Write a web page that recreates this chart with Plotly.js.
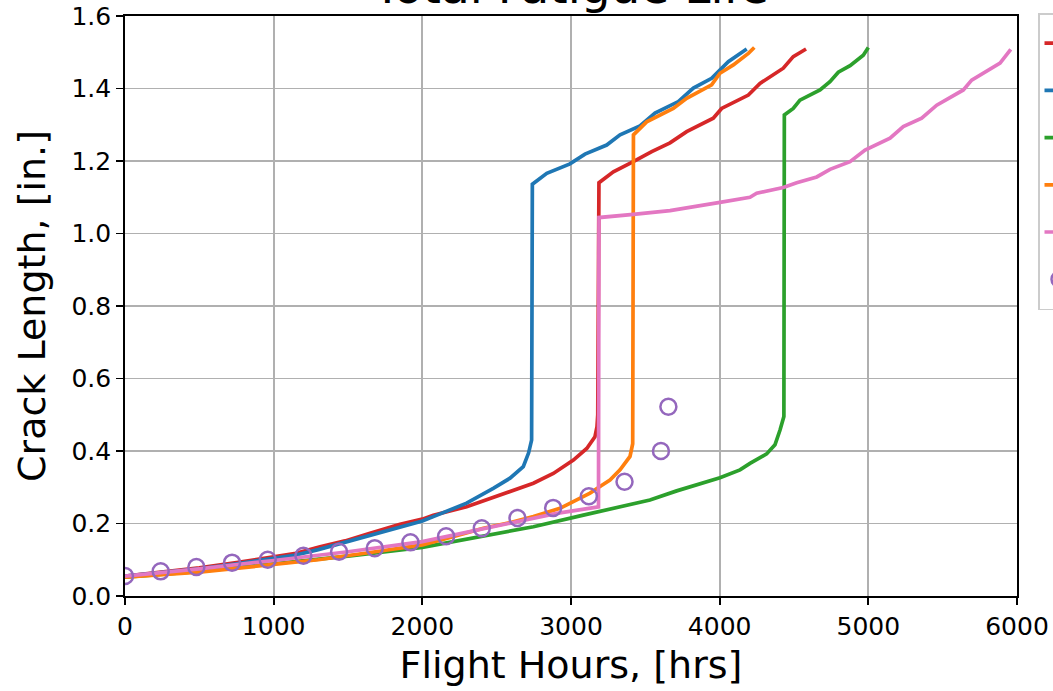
<!DOCTYPE html>
<html>
<head>
<meta charset="utf-8">
<script src="https://cdn.plot.ly/plotly-3.0.1.min.js"></script>
<style>
  html, body { margin: 0; padding: 0; background: #ffffff; overflow: hidden; width: 1053px; height: 691px; }
  #chart { position: absolute; left: 0; top: -40px; width: 1200px; height: 760px; }
</style>
</head>
<body>
<div id="chart"></div>
<script>
// ---- Data ----
const seriesNames = ["Prediction 1", "Prediction 2", "Prediction 3", "Prediction 4", "Prediction 5", "Test Data"];

const redHours  = [0, 250, 500, 750, 1000, 1150, 1312, 1480, 1648, 1850, 2000, 2074, 2298, 2522, 2747, 2881, 3016, 3106, 3161, 3175, 3180, 3188, 3285, 3419, 3543, 3666, 3778, 3957, 4013, 4193, 4271, 4428, 4495, 4581];
const redCrack  = [0.055, 0.066, 0.078, 0.092, 0.108, 0.118, 0.136, 0.152, 0.173, 0.198, 0.212, 0.223, 0.246, 0.279, 0.311, 0.338, 0.375, 0.407, 0.439, 0.467, 0.50, 1.140, 1.170, 1.198, 1.226, 1.250, 1.281, 1.318, 1.345, 1.382, 1.414, 1.456, 1.488, 1.509];

const blueHours = [0, 250, 500, 750, 1000, 1150, 1300, 1480, 1650, 1850, 2000, 2074, 2298, 2477, 2590, 2679, 2715, 2735, 2740, 2837, 2993, 3094, 3240, 3330, 3464, 3565, 3722, 3823, 3946, 4058, 4182];
const blueCrack = [0.055, 0.065, 0.075, 0.089, 0.103, 0.113, 0.128, 0.148, 0.168, 0.191, 0.207, 0.219, 0.256, 0.297, 0.325, 0.357, 0.395, 0.430, 1.136, 1.166, 1.192, 1.219, 1.244, 1.272, 1.297, 1.332, 1.364, 1.401, 1.428, 1.474, 1.509];

const greenHours = [0, 500, 1000, 1500, 2000, 2253, 2500, 2747, 3083, 3300, 3531, 3711, 3890, 4002, 4137, 4204, 4316, 4372, 4406, 4422, 4432, 4435, 4495, 4540, 4675, 4742, 4798, 4877, 4966, 5000];
const greenCrack = [0.052, 0.068, 0.089, 0.110, 0.134, 0.154, 0.172, 0.191, 0.223, 0.243, 0.265, 0.290, 0.311, 0.326, 0.348, 0.366, 0.392, 0.417, 0.458, 0.486, 0.495, 1.327, 1.345, 1.368, 1.396, 1.419, 1.445, 1.463, 1.492, 1.513];

const orangeHours = [0, 500, 1000, 1300, 1650, 2000, 2200, 2410, 2600, 2747, 2926, 3128, 3195, 3262, 3330, 3397, 3415, 3420, 3509, 3688, 3778, 3946, 4002, 4092, 4193, 4233];
const orangeCrack = [0.052, 0.066, 0.087, 0.100, 0.120, 0.141, 0.163, 0.187, 0.203, 0.219, 0.242, 0.284, 0.302, 0.320, 0.348, 0.385, 0.420, 1.272, 1.308, 1.345, 1.373, 1.410, 1.442, 1.465, 1.497, 1.513];

const pinkHours = [0, 500, 1000, 1500, 2000, 2300, 2590, 2904, 3185, 3188, 3419, 3666, 4002, 4204, 4249, 4428, 4518, 4653, 4742, 4877, 4978, 5146, 5235, 5359, 5460, 5639, 5695, 5886, 5958];
const pinkCrack = [0.055, 0.075, 0.098, 0.122, 0.150, 0.176, 0.200, 0.228, 0.246, 1.044, 1.053, 1.063, 1.086, 1.100, 1.111, 1.127, 1.140, 1.156, 1.177, 1.198, 1.230, 1.263, 1.295, 1.318, 1.354, 1.396, 1.423, 1.470, 1.508];

const testHours = [0, 240, 480, 720, 960, 1200, 1440, 1680, 1920, 2160, 2400, 2640, 2880, 3120, 3360, 3605, 3655];
const testCrack = [0.055, 0.068, 0.080, 0.092, 0.100, 0.111, 0.122, 0.132, 0.148, 0.165, 0.187, 0.215, 0.243, 0.275, 0.315, 0.400, 0.522];

const xTicks = [0, 1000, 2000, 3000, 4000, 5000, 6000];
const yTicks = [0.0, 0.2, 0.4, 0.6, 0.8, 1.0, 1.2, 1.4, 1.6];

// ---- Styles ----
const colors = ["#d62728", "#1f77b4", "#2ca02c", "#ff7f0e", "#e377c2", "#9467bd"];
const font = "DejaVu Sans, Liberation Sans, sans-serif";

function lineTrace(x, y, i) {
  return { x: x, y: y, type: "scatter", mode: "lines", name: seriesNames[i],
           line: { color: colors[i], width: 3.7 } };
}

const traces = [
  lineTrace(redHours, redCrack, 0),
  lineTrace(blueHours, blueCrack, 1),
  lineTrace(greenHours, greenCrack, 2),
  lineTrace(orangeHours, orangeCrack, 3),
  lineTrace(pinkHours, pinkCrack, 4),
  { x: testHours, y: testCrack, type: "scatter", mode: "markers", name: seriesNames[5],
    marker: { symbol: "circle-open", size: 16, color: colors[5], line: { width: 2.5, color: colors[5] } } }
];

const axisCommon = {
  showgrid: true, gridcolor: "#b0b0b0", gridwidth: 1.8,
  showline: true, linecolor: "#000000", linewidth: 1.8, mirror: true,
  ticks: "outside", ticklen: 7, tickwidth: 1.8, tickcolor: "#000000",
  tickfont: { family: font, size: 25, color: "#000000" },
  zeroline: false, automargin: false
};

const layout = {
  width: 1200, height: 760,
  paper_bgcolor: "#ffffff", plot_bgcolor: "#ffffff",
  margin: { l: 125, r: 183, t: 56, b: 124, autoexpand: false },
  font: { family: font, color: "#000000" },
  title: { text: "Total Fatigue Life", font: { family: font, size: 47, color: "#000000" },
           xref: "paper", x: 0.5, xanchor: "center", yref: "container", y: 1 - 43 / 760, yanchor: "bottom" },
  xaxis: Object.assign({}, axisCommon, {
    range: [0, 6000], tickvals: xTicks, ticktext: xTicks.map(String),
    title: { text: "Flight Hours, [hrs]", font: { family: font, size: 38, color: "#000000" }, standoff: 12 }
  }),
  yaxis: Object.assign({}, axisCommon, {
    range: [0, 1.6], tickvals: yTicks, ticktext: yTicks.map(v => v.toFixed(1)),
    title: { text: "Crack Length, [in.]", font: { family: font, size: 38, color: "#000000" }, standoff: 14 }
  }),
  showlegend: true,
  legend: { x: (1038 - 125) / 892, xanchor: "left", y: 1.005, yanchor: "top",
            bgcolor: "#ffffff", bordercolor: "#cccccc", borderwidth: 1.5,
            font: { family: font, size: 34, color: "#000000" } }
};

Plotly.newPlot("chart", traces, layout, { displayModeBar: false, staticPlot: true });
</script>
</body>
</html>
